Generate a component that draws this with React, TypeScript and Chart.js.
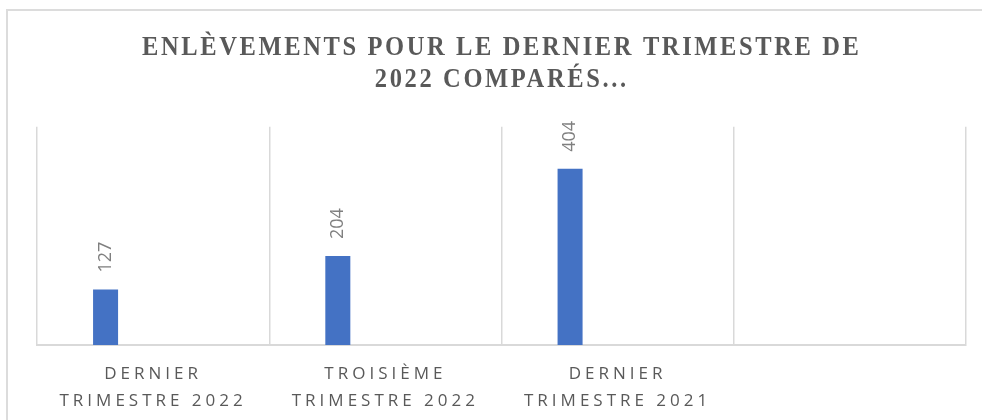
import React, { useEffect, useRef } from "react";
import { Chart, registerables, Title } from "chart.js";

Chart.register(...registerables);

const chartTitle = ["ENLÈVEMENTS POUR LE DERNIER TRIMESTRE DE", "2022 COMPARÉS..."];
const categories: (string | string[])[] = [
  ["DERNIER", "TRIMESTRE 2022"],
  ["TROISIÈME", "TRIMESTRE 2022"],
  ["DERNIER", "TRIMESTRE 2021"],
  "",
];
const enlevements: (number | null)[] = [127, 204, 404, null];
const serieVide: (number | null)[] = [null, null, null, null];
const yMin = 0;
const yMax = 500;

// Title: letter spacing + horizontal condensing (the original uses a condensed, letter-spaced serif)
const TitleEl: any = (Title as any)._element;
if (TitleEl && !TitleEl.prototype.$patched) {
  TitleEl.prototype.$patched = true;
  const origDraw = TitleEl.prototype.draw;
  TitleEl.prototype.draw = function (...args: any[]) {
    if (!this.options || !this.options.display) return origDraw.apply(this, args);
    const ctx = this.ctx;
    const cx = this.left + this.width / 2 + 2;
    ctx.save();
    (ctx as any).letterSpacing = "3px";
    ctx.translate(cx, 0);
    ctx.scale(0.875, 1);
    ctx.translate(-cx, 0);
    origDraw.apply(this, args);
    ctx.restore();
  };
}

const spacingPlugin = {
  id: "letterSpacingPatch",
  beforeDraw(chart: any) {
    if (chart.$patched) return;
    chart.$patched = true;
    const ctx = chart.ctx;
    const sx = chart.scales.x;
    if (sx) {
      const origL = sx.drawLabels.bind(sx);
      sx.drawLabels = (...args: any[]) => {
        ctx.save();
        (ctx as any).letterSpacing = "4px";
        origL(...args);
        ctx.restore();
      };
    }
  },
};

const valueLabels = {
  id: "valueLabels",
  afterDatasetsDraw(chart: any) {
    const ctx = chart.ctx;
    const meta = chart.getDatasetMeta(0);
    const data = chart.data.datasets[0].data;
    ctx.save();
    (ctx as any).letterSpacing = "0px";
    ctx.fillStyle = "#7f7f7f";
    ctx.font = "18px 'Open Sans', sans-serif";
    ctx.textAlign = "left";
    ctx.textBaseline = "middle";
    meta.data.forEach((bar: any, i: number) => {
      const v = data[i];
      if (v === null || v === undefined) return;
      ctx.save();
      ctx.translate(bar.x, bar.y - 17);
      ctx.rotate(-Math.PI / 2);
      ctx.fillText(String(v), 0, 0);
      ctx.restore();
    });
    ctx.restore();
  },
};

export default function App() {
  const ref = useRef<HTMLCanvasElement>(null);
  useEffect(() => {
    if (!ref.current) return;
    const chart = new Chart(ref.current, {
      type: "bar",
      data: {
        labels: categories,
        datasets: [
          {
            label: "Enlèvements",
            data: enlevements,
            backgroundColor: "#4472C4",
            borderWidth: 0,
            categoryPercentage: 0.819,
            barPercentage: 0.263,
          },
          {
            label: "",
            data: serieVide,
            backgroundColor: "#ED7D31",
            borderWidth: 0,
            categoryPercentage: 0.819,
            barPercentage: 0.263,
          },
        ],
      },
      options: {
        responsive: false,
        animation: false,
        layout: { padding: { left: 29, right: 33, top: 0, bottom: 6.6 } },
        plugins: {
          legend: { display: false },
          tooltip: { enabled: false },
          title: {
            display: true,
            text: chartTitle,
            color: "#595959",
            font: {
              family: "'Liberation Serif', serif",
              weight: "bold",
              size: 28,
              lineHeight: 1.14,
            },
            padding: { top: 20.5, bottom: 31.5 },
          },
        },
        scales: {
          x: {
            grid: {
              display: true,
              color: "#d9d9d9",
              lineWidth: 1.5,
              offset: true,
              drawTicks: false,
            },
            border: { display: true, color: "#d9d9d9", width: 2 },
            ticks: {
              color: "#595959",
              font: { family: "'Open Sans', sans-serif", size: 17, lineHeight: 1.57 },
              padding: 16,
              maxRotation: 0,
              minRotation: 0,
              autoSkip: false,
            },
          },
          y: {
            display: false,
            min: yMin,
            max: yMax,
          },
        },
      },
      plugins: [spacingPlugin, valueLabels],
    });
    return () => chart.destroy();
  }, []);
  return (
    <div
      style={{
        position: "absolute",
        left: 6,
        top: 9,
        width: 991,
        height: 426,
        border: "2px solid #dcdcdc",
        background: "#fff",
      }}
    >
      <canvas ref={ref} width={991} height={426} style={{ display: "block" }} />
    </div>
  );
}
